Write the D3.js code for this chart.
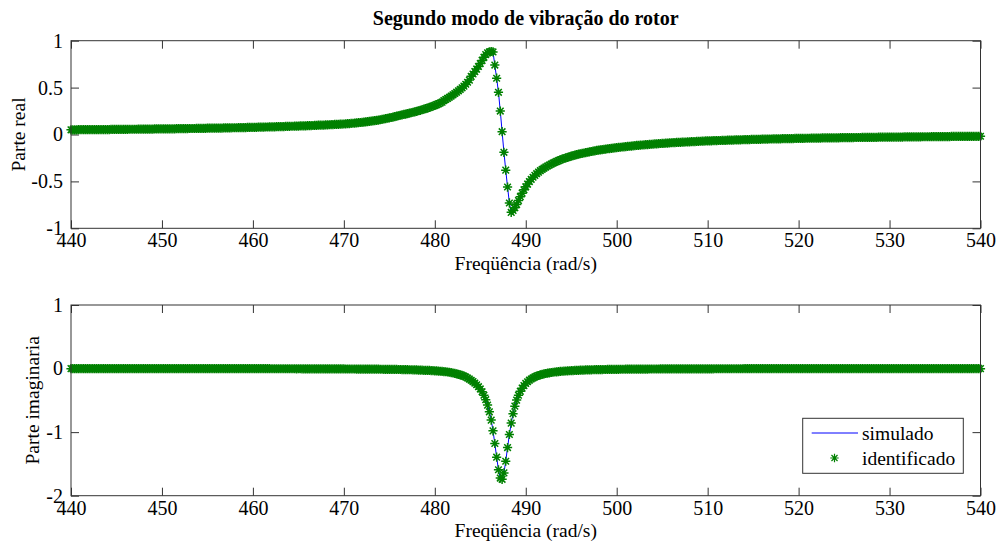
<!DOCTYPE html>
<html><head><meta charset="utf-8">
<script src="https://cdn.jsdelivr.net/npm/d3@7"></script>
<style>
body{margin:0;background:#fff}
svg{display:block;background:#fff}
</style>
</head><body>
<svg id="c" width="1002" height="544"></svg>
<script>
const freqStart = 440;
const freqStep = 0.2;

const realValues = [
.050,.050,.050,.050,.051, .051,.051,.051,.051,.051, .052,.052,.052,.052,.052, .052,.052,.053,.053,.053, .053,.053,.054,.054,.054,
.054,.054,.055,.055,.055, .055,.055,.056,.056,.056, .056,.056,.057,.057,.057, .057,.057,.058,.058,.058, .058,.059,.059,.059,.059,
.060,.060,.060,.060,.061, .061,.061,.061,.062,.062, .062,.062,.063,.063,.063, .064,.064,.064,.064,.065, .065,.065,.066,.066,.066,
.067,.067,.067,.068,.068, .068,.069,.069,.069,.070, .070,.070,.071,.071,.072, .072,.072,.073,.073,.074, .074,.074,.075,.075,.076,
.076,.077,.077,.078,.078, .079,.079,.080,.080,.081, .081,.082,.082,.083,.083, .084,.085,.085,.086,.086, .087,.088,.088,.089,.089,
.090,.091,.092,.092,.093, .094,.095,.095,.096,.097, .098,.099,.099,.100,.101, .102,.103,.104,.105,.106, .107,.108,.109,.110,.111,
.112,.113,.115,.117,.118, .120,.122,.124,.126,.128, .130,.132,.134,.137,.139, .142,.145,.148,.151,.154, .157,.161,.165,.169,.173,
.177,.181,.186,.190,.195, .200,.205,.209,.214,.218, .223,.228,.232,.237,.242, .247,.253,.258,.264,.270, .276,.282,.289,.296,.303,
.311,.319,.327,.336,.345, .362,.373,.385,.397,.410, .423,.437,.451,.466,.482, .498,.516,.536,.557,.580, .620,.645,.670,.697,.725,
.757,.790,.823,.852,.870, .880,.885,.880,.740,.600, .450,.250,.030,-.190,-.380, -.560,-.730,-.830,-.810,-.780, -.745,-.704,-.663,-.625,-.590,
-.558,-.529,-.502,-.478,-.456, -.436,-.418,-.401,-.386,-.372, -.359,-.347,-.336,-.325,-.315, -.305,-.296,-.287,-.279,-.271, -.263,-.256,-.249,-.243,-.237,
-.231,-.225,-.220,-.215,-.210, -.205,-.201,-.197,-.193,-.189, -.185,-.181,-.177,-.174,-.170, -.167,-.164,-.161,-.158,-.155, -.152,-.150,-.147,-.145,-.142,
-.140,-.138,-.136,-.133,-.131, -.129,-.127,-.125,-.123,-.121, -.119,-.117,-.115,-.113,-.112, -.110,-.108,-.107,-.105,-.104, -.102,-.101,-.099,-.098,-.096,
-.095,-.094,-.092,-.091,-.090, -.088,-.087,-.086,-.085,-.084, -.083,-.082,-.081,-.080,-.079, -.078,-.077,-.076,-.075,-.074, -.073,-.072,-.071,-.070,-.069,
-.068,-.068,-.067,-.066,-.066, -.065,-.064,-.064,-.063,-.062, -.062,-.061,-.060,-.060,-.059, -.058,-.058,-.057,-.057,-.056, -.055,-.055,-.054,-.054,-.053,
-.053,-.052,-.052,-.051,-.051, -.050,-.050,-.049,-.049,-.048, -.048,-.047,-.047,-.047,-.046, -.046,-.045,-.045,-.044,-.044, -.044,-.043,-.043,-.042,-.042,
-.042,-.041,-.041,-.041,-.040, -.040,-.040,-.039,-.039,-.039, -.038,-.038,-.038,-.037,-.037, -.037,-.036,-.036,-.036,-.036, -.035,-.035,-.035,-.034,-.034,
-.034,-.034,-.033,-.033,-.033, -.033,-.032,-.032,-.032,-.032, -.031,-.031,-.031,-.031,-.030, -.030,-.030,-.030,-.030,-.029, -.029,-.029,-.029,-.029,-.028,
-.028,-.028,-.028,-.027,-.027, -.027,-.027,-.027,-.026,-.026, -.026,-.026,-.026,-.025,-.025, -.025,-.025,-.025,-.024,-.024, -.024,-.024,-.024,-.023,-.023,
-.023,-.023,-.023,-.023,-.022, -.022,-.022,-.022,-.022,-.021, -.021,-.021,-.021,-.021,-.021, -.020,-.020,-.020,-.020,-.020, -.020,-.019,-.019,-.019,-.019,
-.019
];

const imagValues = [
-.001,-.001,-.001,-.001,-.001, -.001,-.001,-.001,-.001,-.001, -.001,-.001,-.001,-.001,-.001, -.001,-.001,-.001,-.001,-.001, -.001,-.001,-.001,-.001,-.001,
-.001,-.001,-.001,-.001,-.001, -.001,-.001,-.001,-.001,-.001, -.001,-.001,-.001,-.001,-.001, -.001,-.001,-.001,-.001,-.001, -.001,-.001,-.001,-.001,-.001,
-.001,-.001,-.001,-.001,-.001, -.001,-.001,-.001,-.001,-.001, -.001,-.001,-.001,-.001,-.001, -.002,-.002,-.002,-.002,-.002, -.002,-.002,-.002,-.002,-.002,
-.002,-.002,-.002,-.002,-.002, -.002,-.002,-.002,-.002,-.002, -.002,-.002,-.002,-.002,-.002, -.002,-.002,-.002,-.002,-.002, -.002,-.002,-.002,-.002,-.002,
-.002,-.002,-.002,-.002,-.002, -.002,-.002,-.002,-.002,-.002, -.003,-.003,-.003,-.003,-.003, -.003,-.003,-.003,-.003,-.003, -.003,-.003,-.003,-.003,-.004,
-.003,-.003,-.004,-.004,-.004, -.004,-.004,-.004,-.004,-.004, -.004,-.004,-.005,-.005,-.005, -.005,-.005,-.005,-.005,-.005, -.005,-.006,-.006,-.006,-.006,
-.006,-.007,-.007,-.007,-.007, -.007,-.007,-.008,-.008,-.008, -.008,-.008,-.008,-.009,-.009, -.009,-.009,-.010,-.010,-.010, -.011,-.011,-.012,-.012,-.012,
-.013,-.013,-.014,-.014,-.014, -.015,-.015,-.016,-.016,-.017, -.018,-.019,-.019,-.020,-.021, -.022,-.023,-.024,-.025,-.027, -.028,-.029,-.030,-.032,-.033,
-.035,-.037,-.039,-.042,-.044, -.047,-.050,-.054,-.058,-.064, -.070,-.076,-.082,-.090,-.098, -.108,-.120,-.133,-.148,-.165, -.184,-.205,-.228,-.255,-.285,
-.320,-.365,-.420,-.490,-.575, -.680,-.811,-.980,-1.179,-1.394, -1.592,-1.723,-1.742,-1.641,-1.458, -1.243,-1.037,-.858,-.710,-.591, -.496,-.419,-.358,-.308,-.268,
-.234,-.207,-.183,-.164,-.147, -.132,-.120,-.109,-.100,-.092, -.084,-.078,-.072,-.067,-.062, -.058,-.054,-.051,-.048,-.045, -.042,-.040,-.038,-.036,-.034,
-.032,-.031,-.029,-.028,-.027, -.025,-.024,-.023,-.022,-.021, -.020,-.020,-.019,-.018,-.018, -.017,-.016,-.016,-.015,-.015, -.014,-.014,-.013,-.013,-.012,
-.012,-.012,-.011,-.011,-.011, -.010,-.010,-.010,-.010,-.009, -.009,-.009,-.009,-.008,-.008, -.008,-.008,-.008,-.007,-.007, -.007,-.007,-.007,-.007,-.006,
-.006,-.006,-.006,-.006,-.006, -.006,-.006,-.005,-.005,-.005, -.005,-.005,-.005,-.005,-.005, -.005,-.005,-.004,-.004,-.004, -.004,-.004,-.004,-.004,-.004,
-.004,-.004,-.004,-.004,-.003, -.003,-.003,-.003,-.003,-.003, -.003,-.003,-.003,-.003,-.003, -.003,-.003,-.003,-.003,-.003, -.002,-.002,-.002,-.002,-.002,
-.002,-.002,-.002,-.002,-.002, -.002,-.002,-.002,-.002,-.002, -.002,-.002,-.002,-.002,-.002, -.002,-.002,-.002,-.002,-.002, -.002,-.002,-.002,-.002,-.002,
-.002,-.002,-.002,-.002,-.002, -.001,-.001,-.001,-.001,-.001, -.001,-.001,-.001,-.001,-.001, -.001,-.001,-.001,-.001,-.001, -.001,-.001,-.001,-.001,-.001,
-.001,-.001,-.001,-.001,-.001, -.001,-.001,-.001,-.001,-.001, -.001,-.001,-.001,-.001,-.001, -.001,-.001,-.001,-.001,-.001, -.001,-.001,-.001,-.001,-.001,
-.001,-.001,-.001,-.001,-.001, -.001,-.001,-.001,-.001,-.001, -.001,-.001,-.001,-.001,-.001, -.001,-.001,-.001,-.001,-.001, -.001,-.001,-.001,-.001,-.001,
-.001,-.001,-.001,-.001,-.001, -.001,-.001,-.001,-.001,-.001, -.001,-.001,-.001,-.001,-.001, -.001,-.001,-.001,-.001,-.001, -.001,-.001,-.001,-.001,-.001,
-.001
];

const xTickValues = [440, 450, 460, 470, 480, 490, 500, 510, 520, 530, 540];
const realTickValues = [-1, -0.5, 0, 0.5, 1];
const imagTickValues = [-2, -1, 0, 1];
const seriesNames = ["simulado", "identificado"];
const titleText = "Segundo modo de vibração do rotor";
const xLabelText = "Freqüência (rad/s)";
const yLabelTexts = ["Parte real", "Parte imaginaria"];

const FONT = '"Liberation Serif","Times New Roman",serif';
const AXIS_COLOR = "#333";
const LINE_COLOR = "#0000ff";
const MARK_COLOR = "#008000";

const freqs = realValues.map((_, i) => freqStart + i * freqStep);

const svg = d3.select("#c");
const left = 71, right = 980.5;
const x = d3.scaleLinear().domain([440, 540]).range([left, right]);

const starPath = (r) => {
  const d = r * 0.72;
  return `M${-r},0H${r}M0,${-r}V${r}M${-d},${-d}L${d},${d}M${-d},${d}L${d},${-d}`;
};

const panels = [
  { top: 40.7, bottom: 228.3, domain: [-1, 1], ticks: realTickValues, values: realValues, label: yLabelTexts[0], labelX: 25 },
  { top: 305, bottom: 495.7, domain: [-2, 1], ticks: imagTickValues, values: imagValues, label: yLabelTexts[1], labelX: 38.5, legend: true }
];

const fmt = d => String(d);

panels.forEach(p => {
  const y = d3.scaleLinear().domain(p.domain).range([p.bottom, p.top]);
  const g = svg.append("g");

  const axes = g.append("g");
  axes.append("g").attr("transform", `translate(0,${p.bottom})`)
    .call(d3.axisBottom(x).tickValues(xTickValues).tickSizeInner(-8).tickSizeOuter(0).tickPadding(5).tickFormat(fmt));
  axes.append("g").attr("transform", `translate(0,${p.top})`)
    .call(d3.axisTop(x).tickValues(xTickValues).tickSizeInner(-8).tickSizeOuter(0).tickFormat(() => ""));
  axes.append("g").attr("transform", `translate(${left},0)`)
    .call(d3.axisLeft(y).tickValues(p.ticks).tickSizeInner(-8).tickSizeOuter(0).tickPadding(8).tickFormat(fmt));
  axes.append("g").attr("transform", `translate(${right},0)`)
    .call(d3.axisRight(y).tickValues(p.ticks).tickSizeInner(-8).tickSizeOuter(0).tickFormat(() => ""));
  axes.selectAll(".domain").remove();
  axes.selectAll(".tick line").attr("stroke", AXIS_COLOR);
  axes.selectAll(".tick text").attr("fill", "#000")
    .attr("font-family", FONT).attr("font-size", 20);

  // simulated line
  const line = d3.line().x((d, i) => x(freqs[i])).y(d => y(d));
  g.append("path").datum(p.values).attr("d", line)
    .attr("fill", "none").attr("stroke", LINE_COLOR).attr("stroke-width", 1);

  // identified markers
  g.append("g").selectAll("path").data(p.values).join("path")
    .attr("transform", (d, i) => `translate(${x(freqs[i])},${y(d)})`)
    .attr("d", starPath(4.6))
    .attr("fill", "none").attr("stroke", MARK_COLOR).attr("stroke-width", 1.5);

  // frame
  g.append("rect").attr("x", left).attr("y", p.top)
    .attr("width", right - left).attr("height", p.bottom - p.top)
    .attr("fill", "none").attr("stroke", AXIS_COLOR).attr("stroke-width", 1);

  // x label
  g.append("text").attr("x", (left + right) / 2).attr("y", p.bottom + 41.7)
    .attr("text-anchor", "middle").attr("font-family", FONT).attr("font-size", 19.5)
    .text(xLabelText);

  // y label
  g.append("text")
    .attr("transform", `translate(${p.labelX},${(p.top + p.bottom) / 2}) rotate(-90)`)
    .attr("text-anchor", "middle").attr("font-family", FONT).attr("font-size", 19.5)
    .text(p.label);

  if (p.legend) {
    const lg = g.append("g").attr("font-family", FONT).attr("font-size", 19.5);
    lg.append("rect").attr("x", 802.7).attr("y", 418.3).attr("width", 160.6).attr("height", 55)
      .attr("fill", "#fff").attr("stroke", AXIS_COLOR).attr("stroke-width", 1);
    lg.append("line").attr("x1", 811.7).attr("x2", 858).attr("y1", 433).attr("y2", 433)
      .attr("stroke", LINE_COLOR).attr("stroke-width", 1);
    lg.append("path").attr("transform", "translate(834.5,458)").attr("d", starPath(4.2))
      .attr("fill", "none").attr("stroke", MARK_COLOR).attr("stroke-width", 1.2);
    lg.append("text").attr("x", 862).attr("y", 439.5).text(seriesNames[0]);
    lg.append("text").attr("x", 862).attr("y", 464.5).text(seriesNames[1]);
  }
});

svg.append("text").attr("x", (left + right) / 2).attr("y", 25)
  .attr("text-anchor", "middle").attr("font-family", FONT).attr("font-size", 20)
  .attr("font-weight", "bold").text(titleText);
</script>
</body></html>
